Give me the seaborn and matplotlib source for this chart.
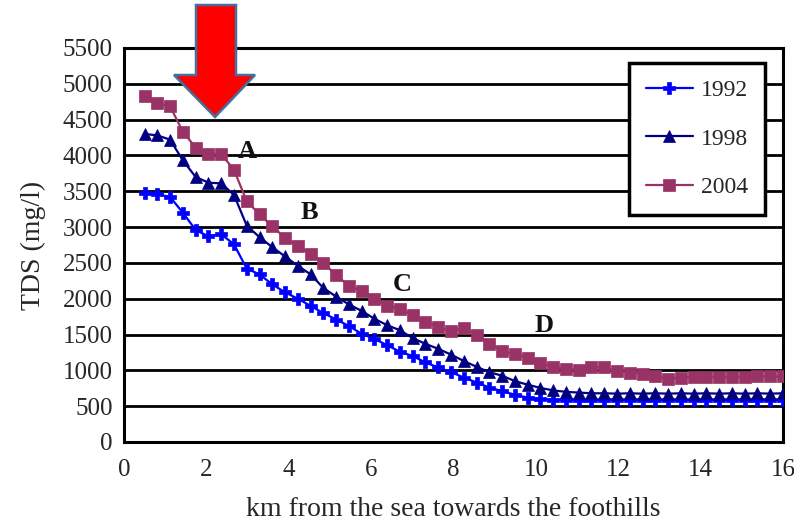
import matplotlib
matplotlib.use("Agg")
import matplotlib.pyplot as plt
from matplotlib.patches import Polygon
import seaborn as sns
import pandas as pd

km = [0.50, 0.81, 1.12, 1.43, 1.74, 2.05, 2.36, 2.67, 2.98, 3.29,
      3.60, 3.91, 4.22, 4.53, 4.84, 5.15, 5.46, 5.77, 6.08, 6.39,
      6.70, 7.01, 7.32, 7.63, 7.94, 8.25, 8.56, 8.87, 9.18, 9.49,
      9.80, 10.11, 10.42, 10.73, 11.04, 11.35, 11.66, 11.97, 12.28, 12.59,
      12.90, 13.21, 13.52, 13.83, 14.14, 14.45, 14.76, 15.07, 15.38, 15.69,
      16.00]

tds_1992 = [3480, 3460, 3420, 3200, 2960, 2870, 2900, 2760, 2420, 2340,
            2200, 2090, 2000, 1900, 1800, 1710, 1620, 1510, 1440, 1350,
            1260, 1200, 1110, 1040, 975, 900, 830, 760, 710, 660,
            620, 600, 590, 590, 585, 590, 585, 590, 585, 590,
            585, 590, 585, 590, 585, 590, 585, 590, 585, 590,
            590]

tds_1998 = [4300, 4280, 4220, 3930, 3700, 3620, 3610, 3450, 3020, 2860,
            2720, 2590, 2460, 2340, 2150, 2030, 1920, 1830, 1720, 1630,
            1560, 1450, 1370, 1300, 1220, 1130, 1050, 975, 925, 850,
            800, 755, 720, 700, 690, 680, 680, 675, 680, 675,
            680, 675, 680, 675, 680, 675, 680, 675, 680, 675,
            680]

tds_2004 = [4830, 4735, 4685, 4330, 4110, 4020, 4020, 3800, 3360, 3180,
            3010, 2850, 2740, 2630, 2500, 2330, 2180, 2110, 1990, 1900,
            1860, 1770, 1680, 1610, 1545, 1590, 1500, 1375, 1275, 1225,
            1175, 1100, 1050, 1020, 1010, 1045, 1040, 985, 970, 950,
            920, 880, 900, 910, 910, 910, 910, 910, 915, 915,
            915]

years = ["1992", "1998", "2004"]
zone_labels = ["A", "B", "C", "D"]
zone_x = [3.0, 4.5, 6.75, 10.2]
zone_y = [4050, 3200, 2200, 1620]

x_ticks = [0, 2, 4, 6, 8, 10, 12, 14, 16]
y_ticks = [0, 500, 1000, 1500, 2000, 2500, 3000, 3500, 4000, 4500, 5000, 5500]

df = pd.DataFrame({
    "km": km * 3,
    "TDS": tds_1992 + tds_1998 + tds_2004,
    "year": [years[0]] * len(km) + [years[1]] * len(km) + [years[2]] * len(km),
})

sns.set_theme(style="white")
plt.rcParams["font.family"] = ["Liberation Serif", "DejaVu Serif"]

fig = plt.figure(figsize=(7.94, 5.28), dpi=100)
ax = fig.add_axes([124 / 794, 1 - 442 / 528, (783 - 124) / 794, (442 - 48) / 528])

styles = {
    "1992": dict(color="#0000FF", marker="P", markersize=8),
    "1998": dict(color="#000080", marker="^", markersize=8),
    "2004": dict(color="#993366", marker="s", markersize=8.5),
}
for yr in years:
    st = styles[yr]
    sns.lineplot(data=df[df["year"] == yr], x="km", y="TDS", ax=ax,
                 color=st["color"], marker=st["marker"], markersize=st["markersize"],
                 markeredgecolor=st["color"], markeredgewidth=0.5,
                 linewidth=1.6, label=yr, zorder=3)

ax.set_xlim(0, 16)
ax.set_ylim(0, 5500)
ax.set_xticks(x_ticks)
ax.set_yticks(y_ticks)
ax.tick_params(axis="y", labelsize=18, length=0, pad=8)
ax.tick_params(axis="x", labelsize=18, length=0, pad=12)
ax.yaxis.grid(True, color="black", linewidth=2.0)
ax.xaxis.grid(False)
ax.set_axisbelow(True)
for sp in ax.spines.values():
    sp.set_color("black")
    sp.set_linewidth(2.2)

ax.set_xlabel("km from the sea towards the foothills", fontsize=20, labelpad=12)
ax.set_ylabel("TDS (mg/l)", fontsize=20, labelpad=12)

for lab, lx, ly in zip(zone_labels, zone_x, zone_y):
    ax.text(lx, ly, lab, fontsize=19, fontweight="bold", ha="center", va="center",
            color="#111111", zorder=4)

leg = ax.legend(loc="upper right",
                bbox_to_anchor=(765 / 794, 1 - 63 / 528), bbox_transform=fig.transFigure,
                frameon=True, fontsize=17, labelspacing=1.15, handlelength=2.0,
                handletextpad=0.35, borderpad=0.7, borderaxespad=0.0,
                fancybox=False, edgecolor="black", framealpha=1)
leg.get_frame().set_linewidth(2.5)

# red block arrow (figure pixel coordinates, origin top-left)
arrow_px = [(196, 5), (236, 5), (236, 75), (255, 75), (215, 117), (174, 75), (196, 75)]
arrow = Polygon([(px / 794, 1 - py / 528) for px, py in arrow_px], closed=True,
                transform=fig.transFigure, facecolor="#FF0000", edgecolor="#41719C",
                linewidth=1.8, zorder=10)
fig.patches.append(arrow)

fig.savefig("out.png", dpi=100)
